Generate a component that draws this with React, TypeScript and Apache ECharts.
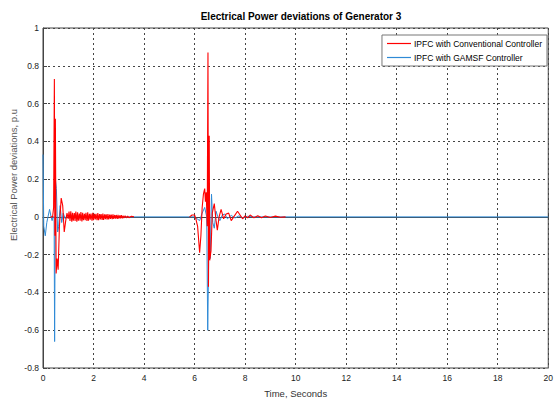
import React, { useEffect, useRef } from "react";
import * as echarts from "echarts";

const chartTitle = "Electrical Power deviations of Generator 3";
const xAxisName = "Time, Seconds";
const yAxisName = "Electrical Power deviations, p.u";
const seriesNames = ["IPFC with Conventional Controller", "IPFC with GAMSF Controller"];

// [time (s), deviation (p.u)]; "-" marks a stretch where the trace sits under the other one
const conventionalData: any[] = [
  [0.3, 0], [0.38, 0], [0.42, 0.05], [0.45, 0.73], [0.47, -0.1], [0.49, 0.52], [0.52, -0.3],
  [0.56, -0.22], [0.6, -0.28], [0.65, -0.05], [0.72, 0.1], [0.78, 0.06], [0.84, -0.08],
  [0.9, -0.02], [0.95, 0.02], [1.0, -0.01],
  [1.03, 0.028], [1.07, -0.022], [1.1, 0.03], [1.14, -0.025], [1.17, 0.022], [1.2, -0.02],
  [1.24, 0.02], [1.27, -0.022], [1.3, 0.028], [1.34, -0.026], [1.37, 0.024], [1.4, -0.02],
  [1.44, 0.018], [1.47, -0.02], [1.5, 0.026], [1.54, -0.024], [1.57, 0.022], [1.6, -0.018],
  [1.64, 0.016], [1.67, -0.018], [1.7, 0.022], [1.74, -0.022], [1.77, 0.024], [1.8, -0.02],
  [1.84, 0.016], [1.87, -0.015], [1.9, 0.018], [1.94, -0.02], [1.97, 0.022], [2.0, -0.018],
  [2.04, 0.016], [2.07, -0.014], [2.1, 0.016], [2.14, -0.018], [2.17, 0.02], [2.2, -0.017],
  [2.24, 0.015], [2.27, -0.013], [2.3, 0.015], [2.34, -0.016], [2.37, 0.018], [2.4, -0.016],
  [2.44, 0.014], [2.47, -0.012], [2.5, 0.013], [2.54, -0.014], [2.57, 0.015], [2.6, -0.013],
  [2.64, 0.012], [2.67, -0.011], [2.7, 0.012], [2.74, -0.012], [2.77, 0.013], [2.8, -0.011],
  [2.84, 0.01], [2.87, -0.009], [2.9, 0.01], [2.94, -0.01], [2.97, 0.011], [3.0, -0.009],
  [3.04, 0.008], [3.07, -0.008], [3.1, 0.009], [3.14, -0.008], [3.17, 0.007], [3.2, -0.006],
  [3.25, 0.006], [3.3, -0.005], [3.35, 0.004], [3.4, -0.004], [3.5, 0.003], [3.6, 0],
  "-",
  [5.8, 0], [5.9, 0.01], [6.0, 0.01], [6.05, -0.01], [6.12, -0.05], [6.2, -0.19], [6.25, -0.1],
  [6.3, 0.05], [6.35, 0.12], [6.4, 0.15], [6.43, 0.08], [6.46, 0.13], [6.5, -0.05],
  [6.53, 0.87], [6.55, -0.37], [6.58, 0.43], [6.6, -0.23], [6.65, -0.18], [6.7, 0.02],
  [6.78, 0.07], [6.85, -0.02], [6.9, -0.07], [6.97, 0.0], [7.05, 0.04], [7.15, -0.01],
  [7.25, 0.015], [7.35, 0.02], [7.45, -0.02], [7.55, 0.0], [7.7, 0.03], [7.8, 0.01],
  [7.9, -0.01], [8.0, 0.005], [8.1, -0.005], [8.2, 0.01], [8.35, -0.005], [8.5, 0.006],
  [8.65, -0.004], [8.8, 0.005], [9.0, -0.003], [9.2, 0.004], [9.4, -0.002], [9.6, 0],
];

const gamsfData: [number, number][] = [
  [0, 0.33], [0.03, -0.05], [0.09, -0.1], [0.15, -0.03], [0.26, 0.04], [0.32, 0.0],
  [0.36, -0.02], [0.4, 0.0], [0.44, 0.0], [0.46, -0.66], [0.49, 0.2], [0.53, 0.15],
  [0.58, -0.08], [0.62, -0.05], [0.68, 0.06], [0.74, -0.03], [0.8, 0.02], [0.88, -0.01],
  [0.95, 0.008], [1.05, 0], [6.0, 0], [6.1, -0.01], [6.2, -0.02], [6.3, 0.02], [6.4, 0.05],
  [6.48, 0.0], [6.52, -0.6], [6.55, -0.3], [6.58, 0.1], [6.62, -0.22], [6.67, 0.12],
  [6.72, -0.03], [6.78, -0.06], [6.85, 0.03], [6.92, 0.0], [7.0, -0.02], [7.1, 0.01],
  [7.2, 0.015], [7.3, -0.01], [7.45, 0.008], [7.6, -0.006], [7.75, 0.005], [7.9, -0.004],
  [8.1, 0.003], [8.3, 0], [20, 0],
];

const FONT = "'Liberation Sans Narrow', 'Arial Narrow', 'Liberation Sans', Arial, sans-serif";

export default function App() {
  const ref = useRef<HTMLDivElement>(null);
  useEffect(() => {
    if (!ref.current) return;
    const chart = echarts.init(ref.current, undefined, { renderer: "svg" });
    chart.setOption({
      animation: false,
      backgroundColor: "#fff",
      title: {
        text: chartTitle,
        left: 296,
        textAlign: "center",
        top: 6,
        textStyle: { fontFamily: FONT, fontSize: 10, fontWeight: "bold", color: "#000" },
      },
      legend: {
        orient: "vertical",
        right: 9,
        top: 35,
        backgroundColor: "#fff",
        borderColor: "#777",
        borderWidth: 1,
        padding: [4, 5, 4, 5],
        itemGap: 5,
        itemWidth: 24,
        itemHeight: 1.2,
        icon: "rect",
        textStyle: { fontFamily: FONT, fontSize: 8.5, color: "#000", padding: [0, 0, 0, -2] },
        data: seriesNames,
      },
      grid: {
        left: 43,
        right: 7,
        top: 28,
        bottom: 35,
        show: true,
        borderColor: "#444",
        borderWidth: 1,
      },
      xAxis: {
        type: "value",
        min: 0,
        max: 20,
        interval: 2,
        name: xAxisName,
        nameLocation: "middle",
        nameGap: 20,
        nameTextStyle: { fontFamily: FONT, fontSize: 9.5, color: "#333" },
        axisLine: { lineStyle: { color: "#444" } },
        axisTick: { inside: true, length: 4, lineStyle: { color: "#444" } },
        axisLabel: { fontFamily: FONT, fontSize: 8.5, color: "#222", margin: 5 },
        splitLine: { show: true, lineStyle: { color: "#444", type: [2, 3], width: 1 } },
      },
      yAxis: {
        type: "value",
        min: -0.8,
        max: 1,
        interval: 0.2,
        axisLine: { show: true, lineStyle: { color: "#444" } },
        axisTick: { show: true, inside: true, length: 4, lineStyle: { color: "#444" } },
        axisLabel: {
          fontFamily: FONT,
          fontSize: 8.5,
          color: "#222",
          margin: 4,
          formatter: (v: number) => String(Math.round(v * 10) / 10),
        },
        splitLine: { show: true, lineStyle: { color: "#444", type: [2, 3], width: 1 } },
      },
      graphic: [
        {
          type: "text",
          x: 8,
          y: 175,
          rotation: Math.PI / 2,
          style: {
            text: yAxisName,
            fontFamily: FONT,
            fontSize: 9.5,
            fill: "#555",
            align: "center",
            verticalAlign: "top",
          },
        },
      ],
      series: [
        {
          name: seriesNames[1],
          type: "line",
          data: gamsfData,
          showSymbol: false,
          symbol: "none",
          lineStyle: { color: "#2f8ad6", width: 1 },
          itemStyle: { color: "#2f8ad6" },
          z: 2,
        },
        {
          name: seriesNames[0],
          type: "line",
          data: conventionalData,
          showSymbol: false,
          symbol: "none",
          connectNulls: false,
          lineStyle: { color: "#ff0000", width: 1.1 },
          itemStyle: { color: "#ff0000" },
          z: 3,
        },
      ],
    });
    return () => chart.dispose();
  }, []);
  return <div ref={ref} style={{ width: 556, height: 403, position: "absolute", left: 0, top: 0 }} />;
}
